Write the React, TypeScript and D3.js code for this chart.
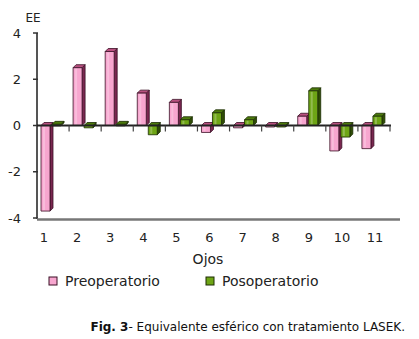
import React from "react";
import * as d3 from "d3";

const categories = ["1", "2", "3", "4", "5", "6", "7", "8", "9", "10", "11"];
const preValues = [-3.7, 2.5, 3.2, 1.4, 1.0, -0.3, -0.1, 0, 0.4, -1.1, -1.0];
const posValues = [0.05, -0.1, 0.05, -0.4, 0.25, 0.55, 0.25, 0, 1.5, -0.5, 0.4];
const yTicks = [-4, -2, 0, 2, 4];
const seriesNames = ["Preoperatorio", "Posoperatorio"];

const W = 419;
const H = 339;
const FONT = "Verdana, 'DejaVu Sans', sans-serif";

const pal = [
  { front: "#f7a6cf", side: "#7a2750", top: "#b8507f", stroke: "#3a0f24" },
  { front: "#6ea515", side: "#2f4d06", top: "#4c7a0c", stroke: "#1c2d04" },
];

function Bar3D({ x, w, y0, y1, c }: { x: number; w: number; y0: number; y1: number; c: any }) {
  const dx = 3;
  const dy = 3;
  const top = Math.min(y0, y1);
  const bot = Math.max(y0, y1);
  const h = Math.max(bot - top, 1.5);
  return (
    <g stroke={c.stroke} strokeWidth={0.8} strokeLinejoin="round">
      <polygon points={`${x + w},${top} ${x + w + dx},${top - dy} ${x + w + dx},${top + h - dy} ${x + w},${top + h}`} fill={c.side} />
      <polygon points={`${x},${top} ${x + dx},${top - dy} ${x + w + dx},${top - dy} ${x + w},${top}`} fill={c.top} />
      <rect x={x} y={top} width={w} height={h} fill={c.front} />
      <rect x={x + 2} y={top + 1} width={2} height={Math.max(h - 2, 0)} fill="#ffffff" opacity={0.25} stroke="none" />
    </g>
  );
}

export default function App() {
  const x = d3.scaleBand<string>().domain(categories).range([37, 390]).paddingInner(0).paddingOuter(0);
  const xl = d3.scalePoint<string>().domain(categories).range([44, 375]);
  const y = d3.scaleLinear().domain([-4, 4]).range([218, 33]);
  const y0 = y(0);
  const bw = 9;
  const boundaries = d3.range(1, categories.length + 1).map((i) => 37 + i * x.step());

  return (
    <svg width={W} height={H} style={{ position: "absolute", left: 0, top: 0, background: "#fff" }} fontFamily={FONT}>
      <rect width={W} height={H} fill="#fff" />
      <line x1={37} x2={37} y1={y(4)} y2={219} stroke="#555" strokeWidth={2} />
      {yTicks.map((t) => (
        <g key={t}>
          <line x1={33} x2={38} y1={y(t)} y2={y(t)} stroke="#333" strokeWidth={1.5} />
          <text x={21} y={y(t)} dy="0.35em" textAnchor="end" fontSize={13} fill="#222">
            {t}
          </text>
        </g>
      ))}
      <text x={33} y={18} dy="0.35em" textAnchor="middle" fontSize={12} fill="#222">EE</text>
      <line x1={37} x2={400} y1={219.5} y2={219.5} stroke="#777" strokeWidth={2.5} />
      {categories.map((c, i) => {
        const gx = (x(c) as number) + 4;
        return (
          <g key={c}>
            <Bar3D x={gx} w={bw} y0={y0} y1={y(preValues[i])} c={pal[0]} />
            <Bar3D x={gx + bw + 2} w={bw} y0={y0} y1={y(posValues[i])} c={pal[1]} />
          </g>
        );
      })}
      <line x1={37} x2={391} y1={y0} y2={y0} stroke="#222" strokeWidth={2} />
      {boundaries.map((b, i) => (
        <line key={i} x1={b} x2={b} y1={y0} y2={y0 + 6} stroke="#444" strokeWidth={1.2} />
      ))}
      {categories.map((c) => (
        <text key={c} x={xl(c)} y={237} dy="0.35em" textAnchor="middle" fontSize={13} fill="#222">
          {c}
        </text>
      ))}
      <text x={208} y={259} dy="0.35em" textAnchor="middle" fontSize={14} fill="#222">Ojos</text>
      {seriesNames.map((n, i) => {
        const lx = i === 0 ? 49 : 206;
        return (
          <g key={n}>
            <rect x={lx} y={277} width={8} height={8} fill={pal[i].front} stroke={pal[i].stroke} strokeWidth={1} />
            <text x={lx + 16} y={281} dy="0.35em" fontSize={14} fill="#222">{n}</text>
          </g>
        );
      })}
      <text x={405} y={327} dy="0.35em" textAnchor="end" fontSize={12} fill="#111">
        <tspan fontWeight="bold">Fig. 3</tspan>
        <tspan>- Equivalente esférico con tratamiento LASEK.</tspan>
      </text>
    </svg>
  );
}
